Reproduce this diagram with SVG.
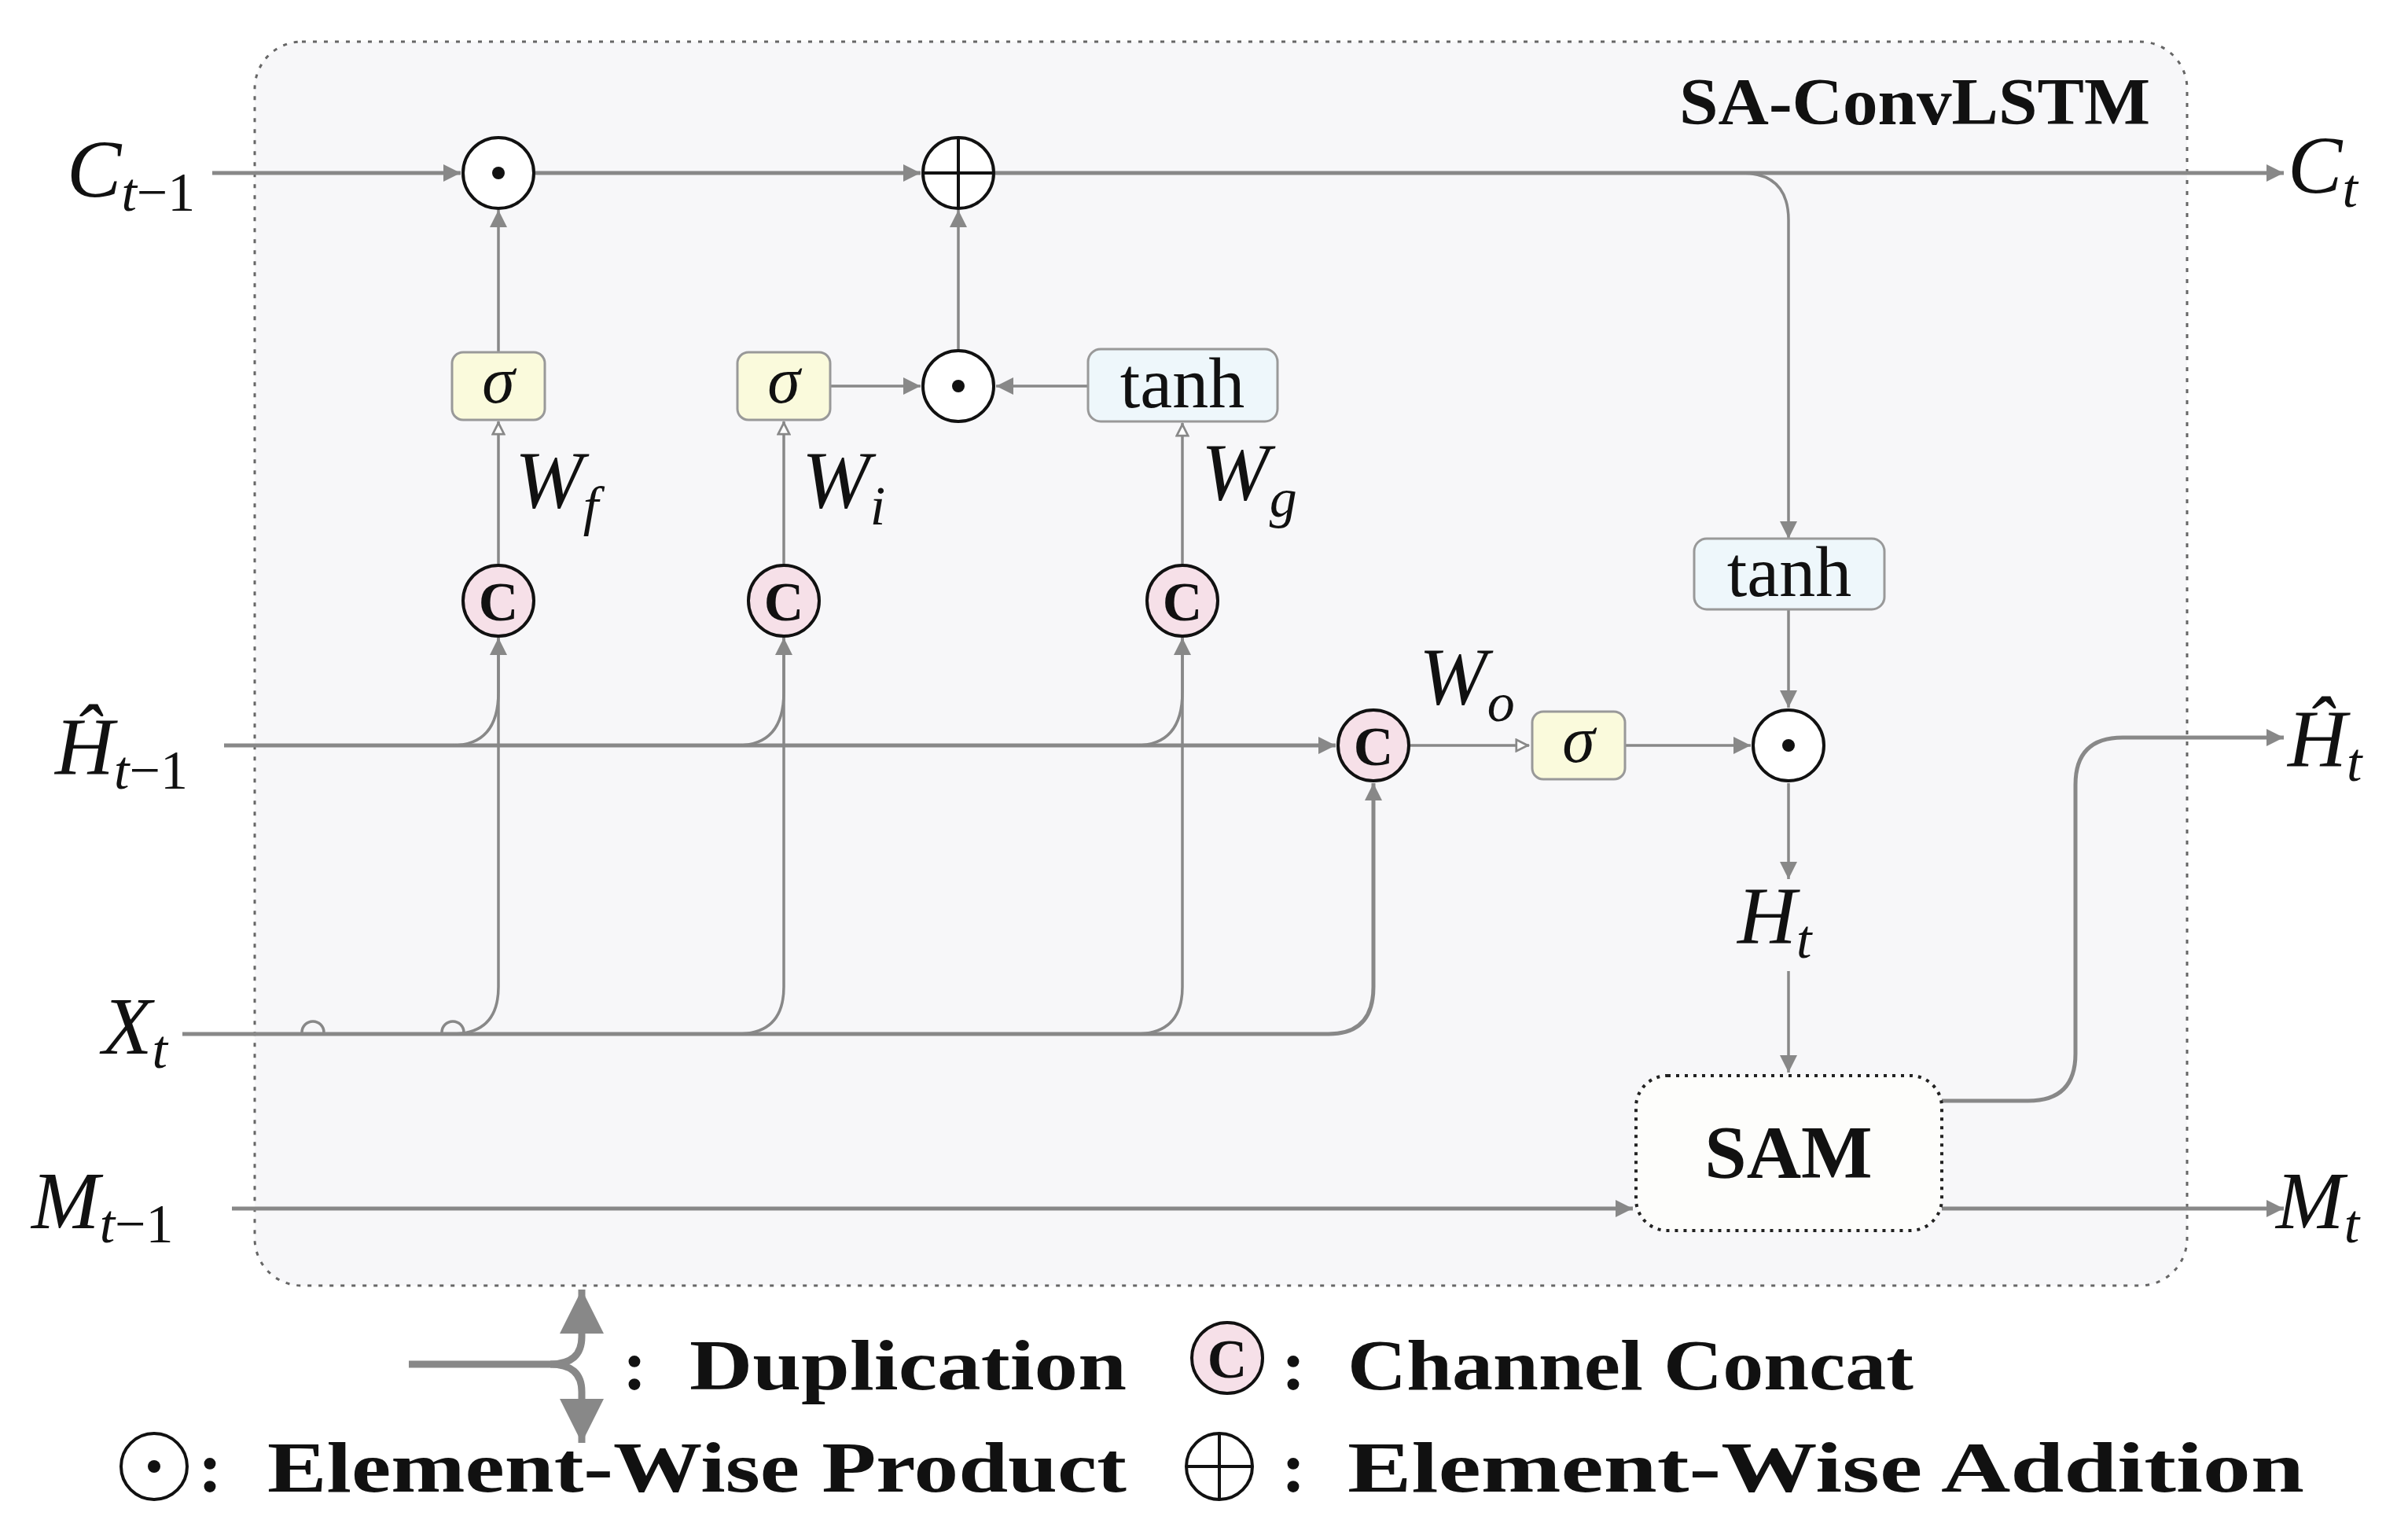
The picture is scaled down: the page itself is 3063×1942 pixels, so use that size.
<svg xmlns="http://www.w3.org/2000/svg" width="3063" height="1942" viewBox="0 0 3063 1942">
<style>
.ln{fill:none;stroke:#888;stroke-width:5}
.th{fill:none;stroke:#888;stroke-width:3.5}
.op{fill:#fff;stroke:#111;stroke-width:4}
.cc{fill:#f6e0e8;stroke:#111;stroke-width:4}
.sg{fill:#fafadc;stroke:#999;stroke-width:3}
.tb{fill:#eef7fb;stroke:#999;stroke-width:3}
.m{font-family:"Liberation Serif",serif;font-style:italic;fill:#111}
.r{font-family:"Liberation Serif",serif;fill:#111}
.b{font-family:"Liberation Serif",serif;font-weight:bold;fill:#111}
</style>
<defs>
<marker id="f" viewBox="0 0 10 10" refX="10" refY="5" markerWidth="30" markerHeight="22" markerUnits="userSpaceOnUse" orient="auto"><path d="M0,0L10,5L0,10Z" fill="#888"/></marker>
<marker id="L" viewBox="0 0 10 10" refX="10" refY="5" markerWidth="70" markerHeight="56" markerUnits="userSpaceOnUse" orient="auto"><path d="M0,0L10,5L0,10Z" fill="#888"/></marker>
<marker id="o" viewBox="0 0 10 10" refX="10" refY="5" markerWidth="22" markerHeight="18" markerUnits="userSpaceOnUse" orient="auto"><path d="M1,1L9,5L1,9Z" fill="#fff" stroke="#888" stroke-width="1.5"/></marker>
</defs>
<rect x="324" y="53" width="2458" height="1582" rx="60" fill="#f7f7f9" stroke="#666" stroke-width="3" stroke-dasharray="5,9"/>
<text class="b" x="2136" y="158" font-size="84" textLength="599" lengthAdjust="spacingAndGlyphs">SA-ConvLSTM</text>
<g id="connectors">
<path class="ln" d="M270,220H586" marker-end="url(#f)"/>
<path class="ln" d="M681,220H1171" marker-end="url(#f)"/>
<path class="ln" d="M1266,220H2905" marker-end="url(#f)"/>
<path class="th" d="M2215,220Q2275,220 2275,280V685" marker-end="url(#f)"/>
<path class="th" d="M634,448V267" marker-end="url(#f)"/>
<path class="th" d="M1219,444V267" marker-end="url(#f)"/>
<path class="th" d="M1056,491H1171" marker-end="url(#f)"/>
<path class="th" d="M1384,491H1267" marker-end="url(#f)"/>
<path class="th" d="M634,717V536" marker-end="url(#o)"/>
<path class="th" d="M997,717V536" marker-end="url(#o)"/>
<path class="th" d="M1504,717V538" marker-end="url(#o)"/>
<path class="ln" d="M285,948H1699" marker-end="url(#f)"/>
<path class="th" d="M575,948Q634,948 634,880V811" marker-end="url(#f)"/>
<path class="th" d="M938,948Q997,948 997,880V811" marker-end="url(#f)"/>
<path class="th" d="M1445,948Q1504,948 1504,880V811" marker-end="url(#f)"/>
<path class="ln" d="M232,1315H1690Q1747,1315 1747,1255V996" marker-end="url(#f)"/>
<path class="th" d="M575,1315Q634,1315 634,1255V811"/>
<path class="th" d="M938,1315Q997,1315 997,1255V811"/>
<path class="th" d="M1445,1315Q1504,1315 1504,1255V811"/>
<path class="th" d="M384,1313A14,14 0 0 1 412,1313"/>
<path class="th" d="M562,1313A14,14 0 0 1 590,1313"/>
<path class="th" d="M1794,948H1945" marker-end="url(#o)"/>
<path class="th" d="M2067,948H2227" marker-end="url(#f)"/>
<path class="th" d="M2275,775V900" marker-end="url(#f)"/>
<path class="th" d="M2275,996V1118" marker-end="url(#f)"/>
<path class="th" d="M2275,1235V1364" marker-end="url(#f)"/>
<path class="ln" d="M2470,1400H2580Q2640,1400 2640,1340V998Q2640,938 2700,938H2905" marker-end="url(#f)"/>
<path class="ln" d="M295,1537H2077" marker-end="url(#f)"/>
<path class="ln" d="M2470,1537H2905" marker-end="url(#f)"/>
</g>
<g id="mul1"><circle class="op" cx="634" cy="220" r="45"/><circle cx="634" cy="220" r="8" fill="#111"/></g>
<g id="add1"><circle class="op" cx="1219" cy="220" r="45"/><path d="M1174,220H1264M1219,175V265" stroke="#111" stroke-width="4"/></g>
<g id="mul2"><circle class="op" cx="1219" cy="491" r="45"/><circle cx="1219" cy="491" r="8" fill="#111"/></g>
<g id="mul3"><circle class="op" cx="2275" cy="948" r="45"/><circle cx="2275" cy="948" r="8" fill="#111"/></g>
<g id="sigf"><rect class="sg" x="575" y="448" width="118" height="86" rx="14"/><text class="m" x="634" y="512" font-size="84" text-anchor="middle">σ</text></g>
<g id="sigi"><rect class="sg" x="938" y="448" width="118" height="86" rx="14"/><text class="m" x="997" y="512" font-size="84" text-anchor="middle">σ</text></g>
<g id="sigo"><rect class="sg" x="1949" y="905" width="118" height="86" rx="14"/><text class="m" x="2008" y="969" font-size="84" text-anchor="middle">σ</text></g>
<g id="tanhg"><rect class="tb" x="1384" y="444" width="241" height="92" rx="16"/><text class="r" x="1504" y="518" font-size="92" text-anchor="middle">tanh</text></g>
<g id="tanhc"><rect class="tb" x="2155" y="685" width="242" height="90" rx="16"/><text class="r" x="2276" y="758" font-size="92" text-anchor="middle">tanh</text></g>
<g id="cf"><circle class="cc" cx="634" cy="764" r="45"/><text class="b" x="634" y="789" font-size="70" text-anchor="middle">C</text></g>
<g id="ci"><circle class="cc" cx="997" cy="764" r="45"/><text class="b" x="997" y="789" font-size="70" text-anchor="middle">C</text></g>
<g id="cg"><circle class="cc" cx="1504" cy="764" r="45"/><text class="b" x="1504" y="789" font-size="70" text-anchor="middle">C</text></g>
<g id="co"><circle class="cc" cx="1747" cy="948" r="45"/><text class="b" x="1747" y="973" font-size="70" text-anchor="middle">C</text></g>
<g id="sam"><rect x="2081" y="1368" width="389" height="197" rx="40" fill="#fdfdfb" stroke="#222" stroke-width="4" stroke-dasharray="4,7"/><text class="b" x="2275" y="1498" font-size="96" text-anchor="middle">SAM</text></g>
<g id="labels">
<text class="m" x="85" y="250" font-size="104">C<tspan font-size="70" dy="18">t</tspan><tspan class="r" font-style="normal" font-size="70">−1</tspan></text>
<text class="m" x="2910" y="245" font-size="104">C<tspan font-size="70" dy="18">t</tspan></text>
<text class="m" x="70" y="985" font-size="104">Ĥ<tspan font-size="70" dy="18">t</tspan><tspan class="r" font-style="normal" font-size="70">−1</tspan></text>
<text class="m" x="2910" y="975" font-size="104">Ĥ<tspan font-size="70" dy="18">t</tspan></text>
<text class="m" x="130" y="1340" font-size="104">X<tspan font-size="70" dy="18">t</tspan></text>
<text class="m" x="40" y="1562" font-size="104">M<tspan font-size="70" dy="18">t</tspan><tspan class="r" font-style="normal" font-size="70">−1</tspan></text>
<text class="m" x="2895" y="1562" font-size="104">M<tspan font-size="70" dy="18">t</tspan></text>
<text class="m" x="2210" y="1200" font-size="104">H<tspan font-size="70" dy="18">t</tspan></text>
<text class="m" x="655" y="645" font-size="104">W<tspan font-size="70" dy="22">f</tspan></text>
<text class="m" x="1020" y="645" font-size="104">W<tspan font-size="70" dy="22">i</tspan></text>
<text class="m" x="1528" y="635" font-size="104">W<tspan font-size="70" dy="22">g</tspan></text>
<text class="m" x="1805" y="895" font-size="104">W<tspan font-size="70" dy="22">o</tspan></text>
</g>
<g id="legend">
<path d="M520,1735H700Q740,1735 740,1700V1640" fill="none" stroke="#888" stroke-width="9" marker-end="url(#L)"/>
<path d="M700,1735Q740,1735 740,1770V1835" fill="none" stroke="#888" stroke-width="9" marker-end="url(#L)"/>
<text class="b" x="792" y="1767" font-size="92">:</text>
<text class="b" x="877" y="1767" font-size="92" textLength="556" lengthAdjust="spacingAndGlyphs">Duplication</text>
<circle class="cc" cx="1561" cy="1727" r="45"/><text class="b" x="1561" y="1752" font-size="70" text-anchor="middle">C</text>
<text class="b" x="1630" y="1767" font-size="92">:</text>
<text class="b" x="1714" y="1767" font-size="92" textLength="720" lengthAdjust="spacingAndGlyphs">Channel Concat</text>
<circle class="op" cx="196" cy="1865" r="42"/><circle cx="196" cy="1865" r="8" fill="#111"/>
<text class="b" x="252" y="1897" font-size="92">:</text>
<text class="b" x="340" y="1897" font-size="92" textLength="1093" lengthAdjust="spacingAndGlyphs">Element-Wise Product</text>
<circle class="op" cx="1551" cy="1865" r="42"/><path d="M1509,1865H1593M1551,1823V1907" stroke="#111" stroke-width="4"/>
<text class="b" x="1630" y="1897" font-size="92">:</text>
<text class="b" x="1714" y="1897" font-size="92" textLength="1217" lengthAdjust="spacingAndGlyphs">Element-Wise Addition</text>
</g>
</svg>
